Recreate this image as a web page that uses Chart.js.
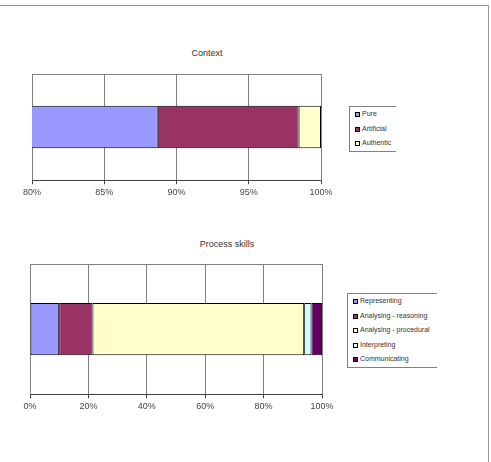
<!DOCTYPE html>
<html>
<head>
<meta charset="utf-8">
<script src="https://cdn.jsdelivr.net/npm/chart.js@4.4.1/dist/chart.umd.min.js"></script>
<style>
    body { margin: 0; width: 491px; height: 462px; overflow: hidden; background: #fff; font-family: Arial, "Liberation Sans", sans-serif; }
    #frame { position: absolute; left: -1px; top: 5px; width: 489px; height: 470px; border-top: 1px solid #999; border-right: 1px solid #999; }
    canvas { position: absolute; left: 0; }
    .title { position: absolute; width: 200px; text-align: center; font-size: 9px; line-height: 11px; color: #333; }
    .legend { position: absolute; border: 1px solid #808080; border-right: none; overflow: hidden; background: #fff; }
    .legend div { height: 14.5px; line-height: 14.5px; font-size: 7px; color: #333; white-space: nowrap; padding-left: 5px; }
    .legend span { display: inline-block; width: 3px; height: 3px; border: 1px solid #000; margin-right: 2px; vertical-align: -1px; }
</style>
</head>
<body>
<div id="frame"></div>

<div class="title" style="left: 107px; top: 48px;">Context</div>
<canvas id="context-chart" width="340" height="145" style="top: 60px;"></canvas>
<div class="legend" id="context-legend" style="left: 349px; top: 106px; width: 46px;"></div>

<div class="title" style="left: 127px; top: 239px;">Process skills</div>
<canvas id="process-chart" width="340" height="190" style="top: 230px;"></canvas>
<div class="legend" id="process-legend" style="left: 347px; top: 293px; width: 89px;"></div>

<script>
const contextTicks = [80, 85, 90, 95, 100];
const contextSeries = ['Pure', 'Artificial', 'Authentic'];
const contextValues = [88.7, 9.75, 1.55];

const processTicks = [0, 20, 40, 60, 80, 100];
const processSeries = ['Representing', 'Analysing - reasoning', 'Analysing - procedural', 'Interpreting', 'Communicating'];
const processValues = [10, 11.4, 72.5, 2.5, 3.6];

const palette = ['#9999ff', '#993366', '#ffffcc', '#ccffff', '#660066'];
const font = { family: 'Arial, "Liberation Sans", sans-serif', size: 9 };

// grey frame round the plot area (bottom edge is the x axis itself)
const plotBorder = {
    id: 'plotBorder',
    beforeDatasetsDraw(chart) {
        const { ctx, chartArea } = chart;
        const l = Math.round(chartArea.left - 0.5) + 0.5;
        const r = Math.round(chartArea.right - 0.5) + 0.5;
        const t = Math.round(chartArea.top - 0.5) + 0.5;
        const b = Math.round(chartArea.bottom - 0.5) + 0.5;
        ctx.save();
        ctx.strokeStyle = '#808080';
        ctx.lineWidth = 1;
        ctx.beginPath();
        ctx.moveTo(l, b);
        ctx.lineTo(l, t);
        ctx.lineTo(r, t);
        ctx.lineTo(r, b);
        ctx.stroke();
        ctx.restore();
    },
};

function makeChart(id, series, values, ticks, padding) {
    return new Chart(document.getElementById(id), {
        type: 'bar',
        data: {
            labels: [''],
            datasets: series.map((name, i) => ({
                label: name,
                data: [values[i]],
                backgroundColor: palette[i],
                borderColor: '#000',
                borderWidth: 1,
                borderSkipped: false,
                categoryPercentage: 1,
                barPercentage: 0.4,
                clip: 0,
            })),
        },
        options: {
            indexAxis: 'y',
            responsive: false,
            animation: false,
            layout: { padding },
            plugins: {
                legend: { display: false },
                tooltip: { enabled: false },
            },
            scales: {
                x: {
                    stacked: true,
                    min: ticks[0],
                    max: ticks[ticks.length - 1],
                    afterBuildTicks: scale => { scale.ticks = ticks.map(value => ({ value })); },
                    ticks: { font, color: '#444', padding: 3, autoSkip: false, maxRotation: 0, callback: v => v + '%' },
                    grid: { color: '#808080', tickColor: '#404040', tickLength: 4 },
                    border: { color: '#404040' },
                },
                y: { stacked: true, display: false },
            },
        },
        plugins: [plotBorder],
    });
}

function buildLegend(chart, id) {
    const box = document.getElementById(id);
    for (const ds of chart.data.datasets) {
        const item = document.createElement('div');
        const swatch = document.createElement('span');
        swatch.style.background = ds.backgroundColor;
        item.appendChild(swatch);
        item.appendChild(document.createTextNode(ds.label));
        box.appendChild(item);
    }
}

const contextChart = makeChart('context-chart', contextSeries, contextValues, contextTicks,
    { left: 32, top: 14, right: 19, bottom: 4 });
const processChart = makeChart('process-chart', processSeries, processValues, processTicks,
    { left: 30, top: 34, right: 18, bottom: 5 });

buildLegend(contextChart, 'context-legend');
buildLegend(processChart, 'process-legend');
</script>
</body>
</html>
